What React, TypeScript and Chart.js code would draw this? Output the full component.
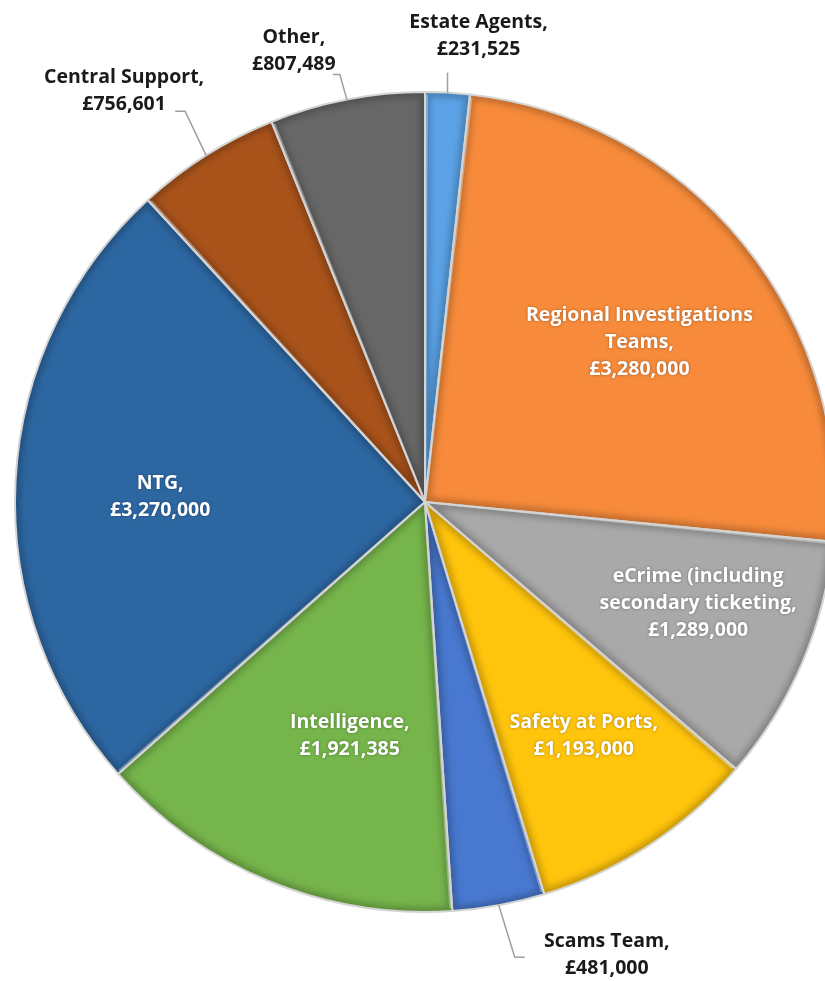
import { useEffect, useRef } from "react";
import { Chart, registerables } from "chart.js";

Chart.register(...registerables);

const categories = [
  "Estate Agents",
  "Regional Investigations Teams",
  "eCrime (including secondary ticketing",
  "Safety at Ports",
  "Scams Team",
  "Intelligence",
  "NTG",
  "Central Support",
  "Other",
];
const values = [231525, 3280000, 1289000, 1193000, 481000, 1921385, 3270000, 756601, 807489];
const labelLines = [
  ["Estate Agents,"],
  ["Regional Investigations", "Teams,"],
  ["eCrime (including", "secondary ticketing,"],
  ["Safety at Ports,"],
  ["Scams Team,"],
  ["Intelligence,"],
  ["NTG,"],
  ["Central Support,"],
  ["Other,"],
];
const colors = ["#5BA3E6", "#F78B3B", "#A9A9A9", "#FFC40C", "#4878CF", "#76B54B", "#2D67A2", "#A9531B", "#676767"];

const FONT = "bold 19.5px 'Open Sans', Lato, sans-serif";
const LINE_H = 27;

type Place =
  | { kind: "in"; r: number; da: number }
  | { kind: "out"; ex: number; ey: number; hook: number; tx: number; ty: number };

const placements: Place[] = [
  { kind: "out", ex: 0, ey: -20, hook: 0, tx: 31, ty: -37 },
  { kind: "in", r: 0.652, da: 2.4 },
  { kind: "in", r: 0.71, da: -2.8 },
  { kind: "in", r: 0.69, da: -1 },
  { kind: "out", ex: 16, ey: 52, hook: 10, tx: 92, ty: -2 },
  { kind: "in", r: 0.6, da: -4.5 },
  { kind: "in", r: 0.646, da: -1.9 },
  { kind: "out", ex: -21, ey: -44, hook: -10, tx: -61, ty: -20 },
  { kind: "out", ex: -7, ey: -25, hook: -7, tx: -46, ty: -24 },
];

const fmt = (v: number) => "£" + v.toLocaleString("en-GB");

const decorPlugin = {
  id: "decor",
  afterDatasetsDraw(chart: any) {
    const ctx: CanvasRenderingContext2D = chart.ctx;
    const meta = chart.getDatasetMeta(0);
    meta.data.forEach((arc: any) => {
      const { x, y, startAngle, endAngle, outerRadius } = arc.getProps(
        ["x", "y", "startAngle", "endAngle", "outerRadius"],
        true
      );
      ctx.save();
      ctx.beginPath();
      ctx.moveTo(x, y);
      ctx.arc(x, y, outerRadius, startAngle, endAngle);
      ctx.closePath();
      ctx.clip();
      ctx.lineWidth = 10;
      ctx.strokeStyle = "rgba(0,0,0,0.22)";
      (ctx as any).filter = "blur(3px)";
      ctx.stroke();
      (ctx as any).filter = "none";
      ctx.lineWidth = 2.5;
      ctx.strokeStyle = "rgba(255,255,255,0.35)";
      ctx.beginPath();
      const a = startAngle + 0.004;
      ctx.moveTo(x + Math.cos(a) * 6, y + Math.sin(a) * 6);
      ctx.lineTo(x + Math.cos(a) * (outerRadius - 3), y + Math.sin(a) * (outerRadius - 3));
      ctx.stroke();
      ctx.restore();
      ctx.save();
      ctx.beginPath();
      ctx.moveTo(x, y);
      ctx.arc(x, y, outerRadius, startAngle, endAngle);
      ctx.closePath();
      ctx.lineWidth = 2;
      ctx.lineJoin = "round";
      ctx.strokeStyle = "#d4d4d4";
      ctx.stroke();
      ctx.restore();
    });
    ctx.save();
    ctx.font = FONT;
    ctx.textAlign = "center";
    ctx.textBaseline = "middle";
    meta.data.forEach((arc: any, i: number) => {
      const { x, y, startAngle, endAngle, outerRadius } = arc.getProps(
        ["x", "y", "startAngle", "endAngle", "outerRadius"],
        true
      );
      const mid = (startAngle + endAngle) / 2;
      const lines = [...labelLines[i], fmt(values[i])];
      const p = placements[i];
      let cx: number, cy: number;
      if (p.kind === "in") {
        const ang = mid + (p.da * Math.PI) / 180;
        cx = x + Math.cos(ang) * outerRadius * p.r;
        cy = y + Math.sin(ang) * outerRadius * p.r;
        ctx.fillStyle = "#ffffff";
        ctx.shadowColor = "rgba(0,0,0,0.35)";
        ctx.shadowBlur = 3;
      } else {
        const sx = x + Math.cos(mid) * outerRadius;
        const sy = y + Math.sin(mid) * outerRadius;
        const exx = sx + p.ex;
        const eyy = sy + p.ey;
        ctx.shadowBlur = 0;
        ctx.shadowColor = "rgba(0,0,0,0)";
        ctx.strokeStyle = "#a0a0a0";
        ctx.lineWidth = 1.5;
        ctx.beginPath();
        ctx.moveTo(sx, sy);
        ctx.lineTo(exx, eyy);
        if (p.hook) ctx.lineTo(exx + p.hook, eyy);
        ctx.stroke();
        cx = exx + p.tx;
        cy = eyy + p.ty;
        ctx.fillStyle = "#1a1a1a";
      }
      const top = cy - ((lines.length - 1) * LINE_H) / 2;
      lines.forEach((t, k) => ctx.fillText(t, cx, top + k * LINE_H));
    });
    ctx.restore();
  },
};

export default function App() {
  const ref = useRef<HTMLCanvasElement | null>(null);
  useEffect(() => {
    if (!ref.current) return;
    const chart = new Chart(ref.current, {
      type: "pie",
      data: {
        labels: categories,
        datasets: [
          {
            data: values,
            backgroundColor: colors,
            borderWidth: 0,
          },
        ],
      },
      options: {
        animation: false,
        responsive: false,
        layout: { padding: { left: 15, right: 15, top: 92, bottom: 69 } },
        plugins: {
          legend: { display: false },
          tooltip: { enabled: false },
        },
      },
      plugins: [decorPlugin],
    });
    return () => chart.destroy();
  }, []);
  return (
    <div style={{ position: "fixed", left: 0, top: 0, width: 825, height: 981, overflow: "hidden", background: "#fff" }}>
      <canvas ref={ref} width={850} height={981} style={{ width: 850, height: 981, display: "block" }} />
    </div>
  );
}
